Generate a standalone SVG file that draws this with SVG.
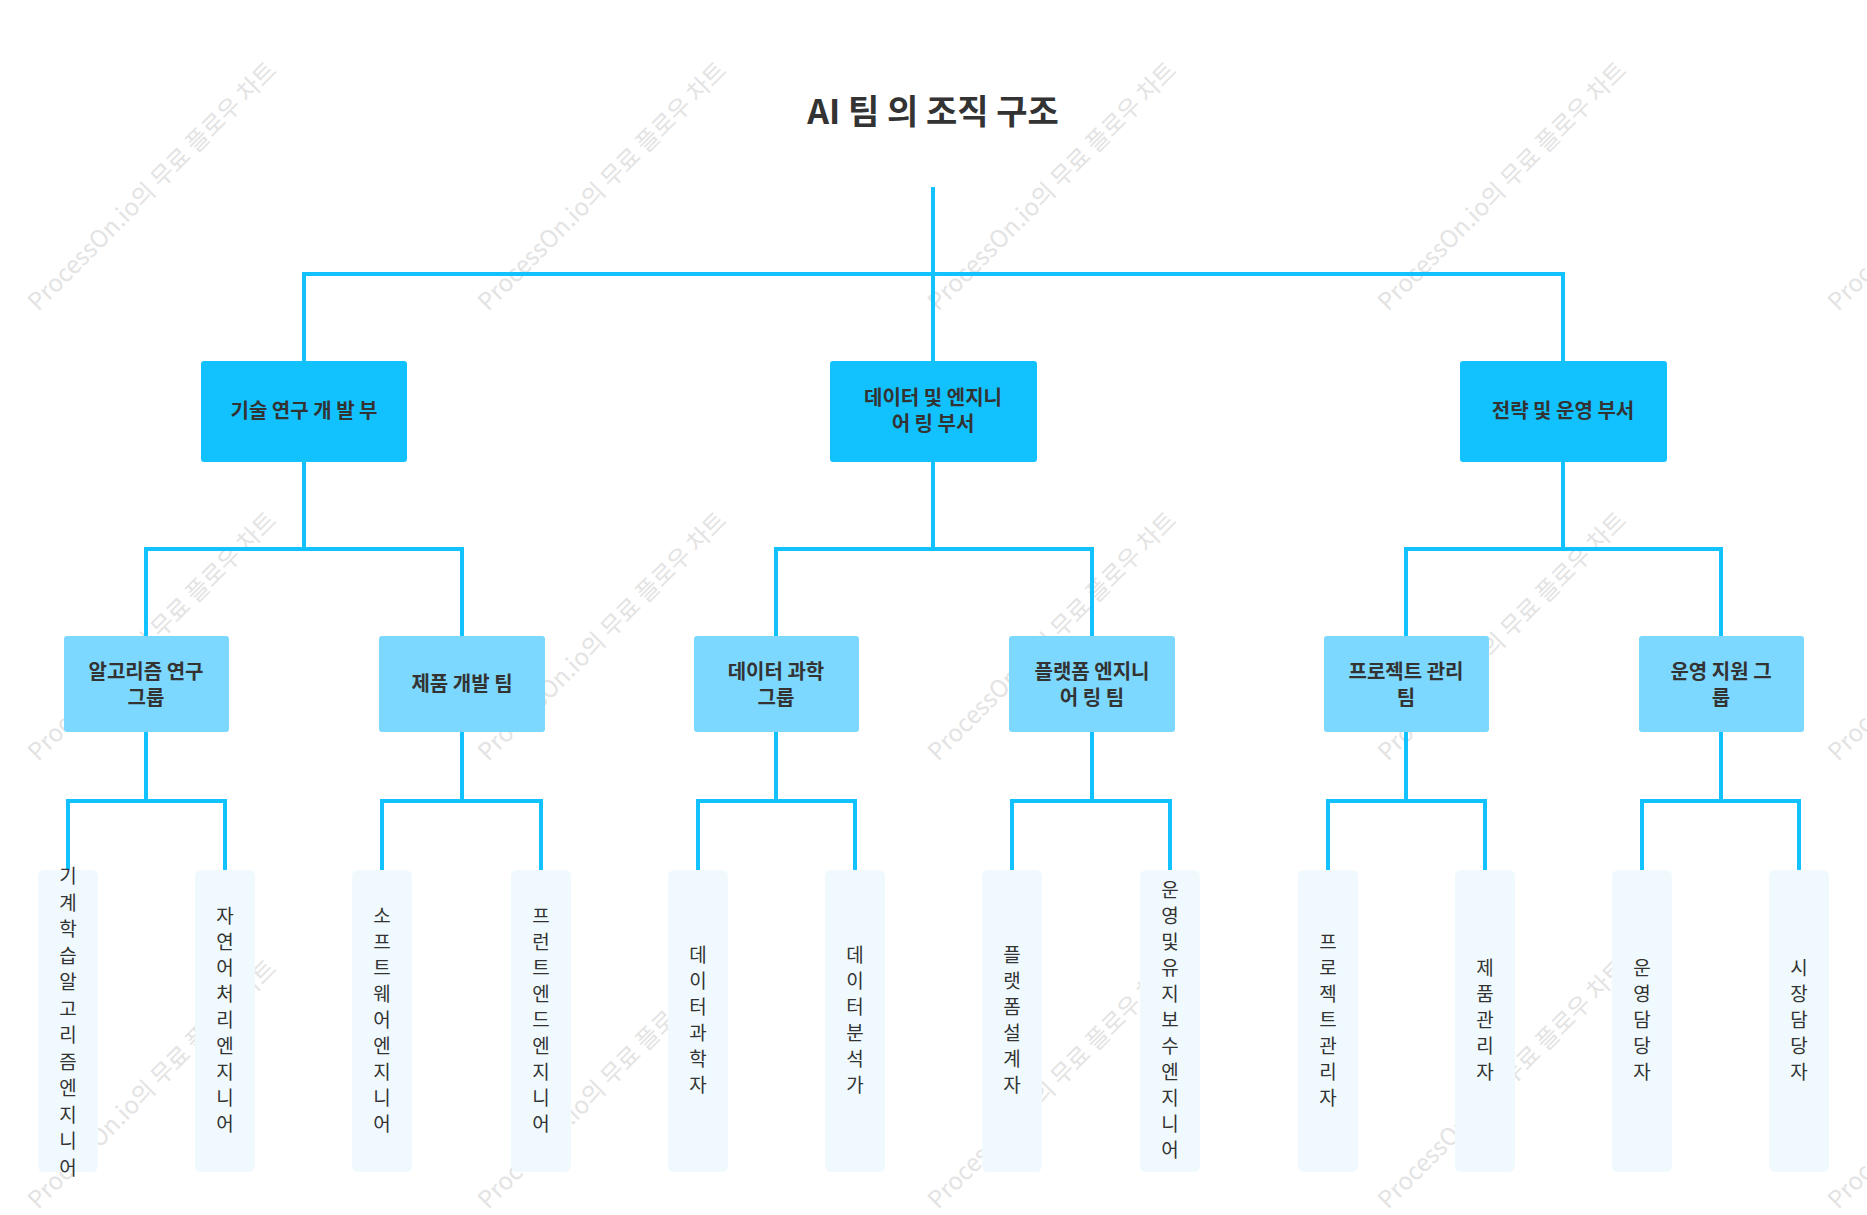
<svg xmlns="http://www.w3.org/2000/svg" width="1867" height="1215" viewBox="0 0 1867 1215">
<style>
text{font-family:"Noto Sans CJK KR","Noto Sans",sans-serif;fill:#333}
.wm{fill:#e3e3e3;font-size:24px}
.l1{fill:#12C2FF}.l2{fill:#7DD8FF}.l3{fill:#F0FAFE}
.t{font-size:20px;font-weight:bold;text-anchor:middle}
.v{font-size:19px;text-anchor:middle}
.c{stroke:#12C2FF;stroke-width:4;fill:none}
</style>
<rect width="1867" height="1215" fill="#fff"/>
<g id="watermarks">
<text class="wm" transform="translate(38,312) rotate(-45)">ProcessOn.io의 무료 플로우 차트</text>
<text class="wm" transform="translate(488,312) rotate(-45)">ProcessOn.io의 무료 플로우 차트</text>
<text class="wm" transform="translate(938,312) rotate(-45)">ProcessOn.io의 무료 플로우 차트</text>
<text class="wm" transform="translate(1388,312) rotate(-45)">ProcessOn.io의 무료 플로우 차트</text>
<text class="wm" transform="translate(1838,312) rotate(-45)">ProcessOn.io의 무료 플로우 차트</text>
<text class="wm" transform="translate(38,762) rotate(-45)">ProcessOn.io의 무료 플로우 차트</text>
<text class="wm" transform="translate(488,762) rotate(-45)">ProcessOn.io의 무료 플로우 차트</text>
<text class="wm" transform="translate(938,762) rotate(-45)">ProcessOn.io의 무료 플로우 차트</text>
<text class="wm" transform="translate(1388,762) rotate(-45)">ProcessOn.io의 무료 플로우 차트</text>
<text class="wm" transform="translate(1838,762) rotate(-45)">ProcessOn.io의 무료 플로우 차트</text>
<text class="wm" transform="translate(38,1210) rotate(-45)">ProcessOn.io의 무료 플로우 차트</text>
<text class="wm" transform="translate(488,1210) rotate(-45)">ProcessOn.io의 무료 플로우 차트</text>
<text class="wm" transform="translate(938,1210) rotate(-45)">ProcessOn.io의 무료 플로우 차트</text>
<text class="wm" transform="translate(1388,1210) rotate(-45)">ProcessOn.io의 무료 플로우 차트</text>
<text class="wm" transform="translate(1838,1210) rotate(-45)">ProcessOn.io의 무료 플로우 차트</text>
</g>
<text x="933" y="124" font-size="34" font-weight="bold" text-anchor="middle">AI 팀 의 조직 구조</text>
<g id="connectors" class="c">
<path d="M933 187V362M304 362V274H1563V362"/>
<path d="M304 462V549M146 636V549H462V636"/>
<path d="M933 462V549M776 636V549H1092V636"/>
<path d="M1563 462V549M1406 636V549H1721V636"/>
<path d="M146 732V801M68 870V801H225V870"/>
<path d="M462 732V801M382 870V801H541V870"/>
<path d="M776 732V801M698 870V801H855V870"/>
<path d="M1092 732V801M1012 870V801H1170V870"/>
<path d="M1406 732V801M1328 870V801H1485V870"/>
<path d="M1721 732V801M1642 870V801H1799V870"/>
</g>
<g id="n1"><rect class="l1" x="201" y="361" width="206" height="101" rx="3"/><text class="t" x="304" y="418">기술 연구 개 발 부</text></g>
<g id="n2"><rect class="l1" x="830" y="361" width="207" height="101" rx="3"/><text class="t" x="933" y="405">데이터 및 엔지니</text><text class="t" x="933" y="431">어 링 부서</text></g>
<g id="n3"><rect class="l1" x="1460" y="361" width="207" height="101" rx="3"/><text class="t" x="1563" y="418">전략 및 운영 부서</text></g>
<g id="n11"><rect class="l2" x="64" y="636" width="165" height="96" rx="3"/><text class="t" x="146" y="679">알고리즘 연구</text><text class="t" x="146" y="705">그룹</text></g>
<g id="n12"><rect class="l2" x="379" y="636" width="166" height="96" rx="3"/><text class="t" x="462" y="691">제품 개발 팀</text></g>
<g id="n21"><rect class="l2" x="694" y="636" width="165" height="96" rx="3"/><text class="t" x="776" y="679">데이터 과학</text><text class="t" x="776" y="705">그룹</text></g>
<g id="n22"><rect class="l2" x="1009" y="636" width="166" height="96" rx="3"/><text class="t" x="1092" y="679">플랫폼 엔지니</text><text class="t" x="1092" y="705">어 링 팀</text></g>
<g id="n31"><rect class="l2" x="1324" y="636" width="165" height="96" rx="3"/><text class="t" x="1406" y="679">프로젝트 관리</text><text class="t" x="1406" y="705">팀</text></g>
<g id="n32"><rect class="l2" x="1639" y="636" width="165" height="96" rx="3"/><text class="t" x="1721" y="679">운영 지원 그</text><text class="t" x="1721" y="705">룹</text></g>
<g id="leaf1"><rect class="l3" x="38" y="870" width="60" height="302" rx="6"/><text class="v" y="883"><tspan x="68">기</tspan><tspan x="68" dy="26.5">계</tspan><tspan x="68" dy="26.5">학</tspan><tspan x="68" dy="26.5">습</tspan><tspan x="68" dy="26.5">알</tspan><tspan x="68" dy="26.5">고</tspan><tspan x="68" dy="26.5">리</tspan><tspan x="68" dy="26.5">즘</tspan><tspan x="68" dy="26.5">엔</tspan><tspan x="68" dy="26.5">지</tspan><tspan x="68" dy="26.5">니</tspan><tspan x="68" dy="26.5">어</tspan></text></g>
<g id="leaf2"><rect class="l3" x="195" y="870" width="60" height="302" rx="6"/><text class="v" y="923"><tspan x="225">자</tspan><tspan x="225" dy="26">연</tspan><tspan x="225" dy="26">어</tspan><tspan x="225" dy="26">처</tspan><tspan x="225" dy="26">리</tspan><tspan x="225" dy="26">엔</tspan><tspan x="225" dy="26">지</tspan><tspan x="225" dy="26">니</tspan><tspan x="225" dy="26">어</tspan></text></g>
<g id="leaf3"><rect class="l3" x="352" y="870" width="60" height="302" rx="6"/><text class="v" y="923"><tspan x="382">소</tspan><tspan x="382" dy="26">프</tspan><tspan x="382" dy="26">트</tspan><tspan x="382" dy="26">웨</tspan><tspan x="382" dy="26">어</tspan><tspan x="382" dy="26">엔</tspan><tspan x="382" dy="26">지</tspan><tspan x="382" dy="26">니</tspan><tspan x="382" dy="26">어</tspan></text></g>
<g id="leaf4"><rect class="l3" x="511" y="870" width="60" height="302" rx="6"/><text class="v" y="923"><tspan x="541">프</tspan><tspan x="541" dy="26">런</tspan><tspan x="541" dy="26">트</tspan><tspan x="541" dy="26">엔</tspan><tspan x="541" dy="26">드</tspan><tspan x="541" dy="26">엔</tspan><tspan x="541" dy="26">지</tspan><tspan x="541" dy="26">니</tspan><tspan x="541" dy="26">어</tspan></text></g>
<g id="leaf5"><rect class="l3" x="668" y="870" width="60" height="302" rx="6"/><text class="v" y="962"><tspan x="698">데</tspan><tspan x="698" dy="26">이</tspan><tspan x="698" dy="26">터</tspan><tspan x="698" dy="26">과</tspan><tspan x="698" dy="26">학</tspan><tspan x="698" dy="26">자</tspan></text></g>
<g id="leaf6"><rect class="l3" x="825" y="870" width="60" height="302" rx="6"/><text class="v" y="962"><tspan x="855">데</tspan><tspan x="855" dy="26">이</tspan><tspan x="855" dy="26">터</tspan><tspan x="855" dy="26">분</tspan><tspan x="855" dy="26">석</tspan><tspan x="855" dy="26">가</tspan></text></g>
<g id="leaf7"><rect class="l3" x="982" y="870" width="60" height="302" rx="6"/><text class="v" y="962"><tspan x="1012">플</tspan><tspan x="1012" dy="26">랫</tspan><tspan x="1012" dy="26">폼</tspan><tspan x="1012" dy="26">설</tspan><tspan x="1012" dy="26">계</tspan><tspan x="1012" dy="26">자</tspan></text></g>
<g id="leaf8"><rect class="l3" x="1140" y="870" width="60" height="302" rx="6"/><text class="v" y="897"><tspan x="1170">운</tspan><tspan x="1170" dy="26">영</tspan><tspan x="1170" dy="26">및</tspan><tspan x="1170" dy="26">유</tspan><tspan x="1170" dy="26">지</tspan><tspan x="1170" dy="26">보</tspan><tspan x="1170" dy="26">수</tspan><tspan x="1170" dy="26">엔</tspan><tspan x="1170" dy="26">지</tspan><tspan x="1170" dy="26">니</tspan><tspan x="1170" dy="26">어</tspan></text></g>
<g id="leaf9"><rect class="l3" x="1298" y="870" width="60" height="302" rx="6"/><text class="v" y="949"><tspan x="1328">프</tspan><tspan x="1328" dy="26">로</tspan><tspan x="1328" dy="26">젝</tspan><tspan x="1328" dy="26">트</tspan><tspan x="1328" dy="26">관</tspan><tspan x="1328" dy="26">리</tspan><tspan x="1328" dy="26">자</tspan></text></g>
<g id="leaf10"><rect class="l3" x="1455" y="870" width="60" height="302" rx="6"/><text class="v" y="975"><tspan x="1485">제</tspan><tspan x="1485" dy="26">품</tspan><tspan x="1485" dy="26">관</tspan><tspan x="1485" dy="26">리</tspan><tspan x="1485" dy="26">자</tspan></text></g>
<g id="leaf11"><rect class="l3" x="1612" y="870" width="60" height="302" rx="6"/><text class="v" y="975"><tspan x="1642">운</tspan><tspan x="1642" dy="26">영</tspan><tspan x="1642" dy="26">담</tspan><tspan x="1642" dy="26">당</tspan><tspan x="1642" dy="26">자</tspan></text></g>
<g id="leaf12"><rect class="l3" x="1769" y="870" width="60" height="302" rx="6"/><text class="v" y="975"><tspan x="1799">시</tspan><tspan x="1799" dy="26">장</tspan><tspan x="1799" dy="26">담</tspan><tspan x="1799" dy="26">당</tspan><tspan x="1799" dy="26">자</tspan></text></g>
</svg>
